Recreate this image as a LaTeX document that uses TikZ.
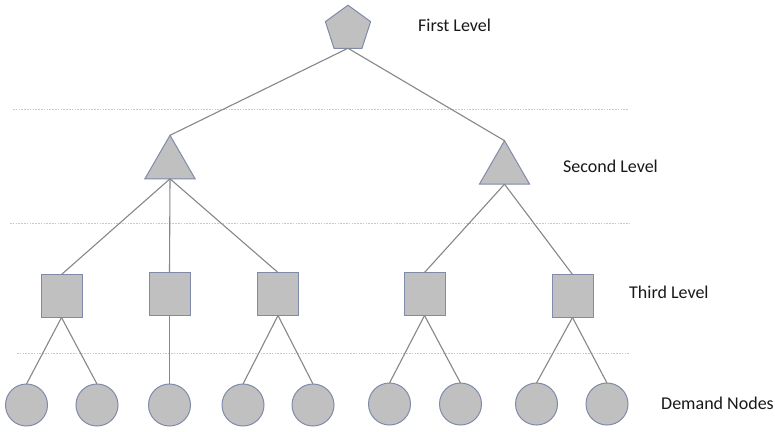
\documentclass[tikz,border=0pt]{standalone}
\usepackage{fontspec}
\setmainfont{Carlito}
\usetikzlibrary{shapes.geometric}
\definecolor{shapefill}{RGB}{192,192,192}
\definecolor{shapeline}{RGB}{128,138,170}
\definecolor{edgeline}{RGB}{135,135,135}
\definecolor{guideline}{RGB}{200,200,200}
\definecolor{labeltext}{RGB}{25,25,25}
\tikzset{
  shapebase/.style={fill=shapefill, draw=shapeline, line width=1pt, inner sep=0pt, outer sep=0pt},
  pent/.style={shapebase, regular polygon, regular polygon sides=5, minimum size=47.6pt},
  tri/.style={shapebase, regular polygon, regular polygon sides=3, minimum size=58pt},
  sq/.style={shapebase, rectangle, minimum width=41pt, minimum height=43pt},
  dem/.style={shapebase, circle, minimum size=42pt},
  edge/.style={draw=edgeline, line width=1.1pt},
  guide/.style={draw=guideline, line width=0.9pt, dash pattern=on 1.6pt off 1.2pt},
  levellabel/.style={anchor=west, inner sep=0pt, text=labeltext, font=\fontsize{18}{21}\selectfont}
}
\begin{document}
\begin{tikzpicture}[x=1pt, y=-1pt]
\useasboundingbox[fill=white] (0,0) rectangle (775,431);

% dotted level separators
\coordinate (g1a) at (13,109);  \coordinate (g1b) at (629,109);
\coordinate (g2a) at (10,223);  \coordinate (g2b) at (630,223);
\coordinate (g3a) at (17,353);  \coordinate (g3b) at (630,353);
\draw[guide] (g1a) -- (g1b);
\draw[guide] (g2a) -- (g2b);
\draw[guide] (g3a) -- (g3b);

% first level
\node[pent] (top) at (348,29) {};

% second level
\node[tri] (tL) at (170,164.3) {};
\node[tri] (tR) at (504.5,169.7) {};

% third level
\node[sq] (s1) at (61.5,296) {};
\node[sq] (s2) at (169.5,293.5) {};
\node[sq] (s3) at (278,294) {};
\node[sq] (s4) at (424.5,294) {};
\node[sq] (s5) at (572.5,296) {};

% demand nodes
\node[dem] (d1) at (26.5,405) {};
\node[dem] (d2) at (97,405) {};
\node[dem] (d3) at (169.5,405) {};
\node[dem] (d4) at (243,405) {};
\node[dem] (d5) at (313,405) {};
\node[dem] (d6) at (389.5,404) {};
\node[dem] (d7) at (460.5,404) {};
\node[dem] (d8) at (536.5,404) {};
\node[dem] (d9) at (607,404) {};

% connectors
\draw[edge] (top.south) -- (tL.north);
\draw[edge] (top.south) -- (tR.north);
\draw[edge] (tL.south) -- (s1.north);
\draw[edge] (tL.south) -- (s2.north);
\draw[edge] (tL.south) -- (s3.north);
\draw[edge] (tR.south) -- (s4.north);
\draw[edge] (tR.south) -- (s5.north);
\draw[edge] (s1.south) -- (d1.north);
\draw[edge] (s1.south) -- (d2.north);
\draw[edge] (s2.south) -- (d3.north);
\draw[edge] (s3.south) -- (d4.north);
\draw[edge] (s3.south) -- (d5.north);
\draw[edge] (s4.south) -- (d6.north);
\draw[edge] (s4.south) -- (d7.north);
\draw[edge] (s5.south) -- (d8.north);
\draw[edge] (s5.south) -- (d9.north);

% level labels
\node[levellabel] (l1) at (418,25) {First Level};
\node[levellabel] (l2) at (563,166) {Second Level};
\node[levellabel] (l3) at (629,292) {Third Level};
\node[levellabel] (l4) at (661,403) {Demand Nodes};
\end{tikzpicture}
\end{document}
